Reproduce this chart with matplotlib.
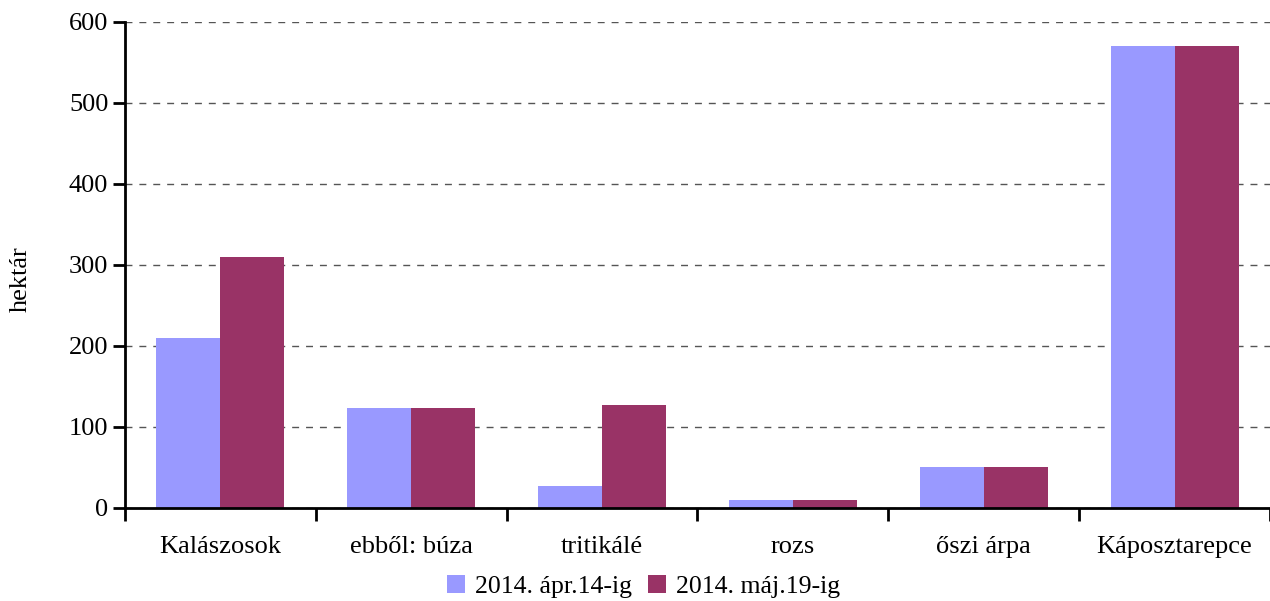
import matplotlib.pyplot as plt
import numpy as np

plt.rcParams['font.family'] = ['Liberation Serif', 'DejaVu Serif']

categories = ['Kalászosok', 'ebből: búza', 'tritikálé', 'rozs', 'őszi árpa', 'Káposztarepce']
apr = [210, 123, 27, 10, 50, 570]
maj = [310, 123, 127, 10, 50, 570]
labels = ['2014. ápr.14-ig', '2014. máj.19-ig']

fig = plt.figure(figsize=(12.7, 6.01), dpi=100)
ax = fig.add_axes([0.0984, 0.155, 0.9016, 0.809])

x = np.arange(len(categories))
w = 0.335
ax.bar(x - w / 2, apr, w, color='#9999FF', label=labels[0], zorder=2)
ax.bar(x + w / 2, maj, w, color='#993366', label=labels[1], zorder=2)

ax.set_xlim(-0.5, len(categories) - 0.5)
ax.set_ylim(0, 600)
ax.set_yticks(range(0, 601, 100))
ax.yaxis.grid(True, linestyle=(0, (5, 5)), color='#555555', linewidth=1, zorder=1)
ax.set_axisbelow(True)

ax.set_xticks(x)
ax.set_xticklabels(categories, fontsize=19)
ax.tick_params(axis='x', length=0, pad=20)
ax.set_xticks(np.arange(-0.5, len(categories)), minor=True)
ax.tick_params(axis='x', which='minor', length=9, width=2, direction='out')
ax.tick_params(axis='y', labelsize=19, length=9, width=2, direction='out', pad=3)

for s in ['top', 'right']:
    ax.spines[s].set_visible(False)
ax.spines['left'].set_linewidth(2)
ax.spines['bottom'].set_linewidth(2)

ax.set_ylabel('hektár', fontsize=19)
ax.yaxis.set_label_coords(-0.081, 0.47)

ax.legend(loc='lower center', bbox_to_anchor=(0.453, -0.232), ncol=2, frameon=False,
          fontsize=18.5, handlelength=0.7, handleheight=0.7, handletextpad=0.4,
          columnspacing=0.6)

fig.savefig('out.png', dpi=100)
